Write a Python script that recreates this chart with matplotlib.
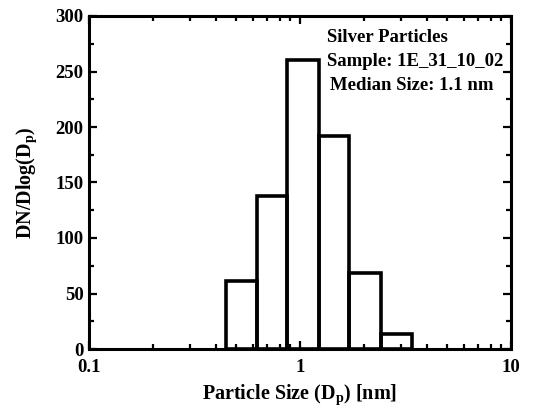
import numpy as np
import matplotlib
matplotlib.use("Agg")
import matplotlib.pyplot as plt
from matplotlib.ticker import FixedLocator, LogLocator, NullFormatter, MultipleLocator

bin_edges = [0.445, 0.624, 0.871, 1.235, 1.713, 2.41, 3.38]
counts = [61.5, 137.5, 260.5, 192.3, 68.7, 13.5]
x_ticks = [0.1, 1, 10]
x_tick_labels = ["0.1", "1", "10"]
y_ticks = [0, 50, 100, 150, 200, 250, 300]
notes = ["Silver Particles", "Sample: 1E_31_10_02", "Median Size: 1.1 nm"]

plt.rcParams['font.family'] = ['Liberation Serif']
plt.rcParams['font.weight'] = 'bold'
plt.rcParams['mathtext.fontset'] = 'custom'
plt.rcParams['mathtext.rm'] = 'Liberation Serif:bold'
plt.rcParams['mathtext.it'] = 'Liberation Serif:bold'
plt.rcParams['mathtext.bf'] = 'Liberation Serif:bold'

fig = plt.figure(figsize=(5.44, 4.07), dpi=100)
ax = fig.add_axes([89/544, 1-349/407, (511-89)/544, (349-16)/407])

edges = np.array(bin_edges)
ax.bar(edges[:-1], counts, width=np.diff(edges), align='edge', fill=False,
       edgecolor='black', linewidth=2.6, zorder=3)

ax.set_xscale('log')
ax.set_xlim(0.1, 10)
ax.set_ylim(0, 300)
ax.xaxis.set_major_locator(FixedLocator(x_ticks))
ax.set_xticklabels(x_tick_labels)
ax.xaxis.set_minor_locator(LogLocator(base=10, subs=np.arange(2, 10)))
ax.xaxis.set_minor_formatter(NullFormatter())
ax.set_yticks(y_ticks)
ax.yaxis.set_minor_locator(MultipleLocator(25))

for s in ax.spines.values():
    s.set_linewidth(2.2)
ax.tick_params(which='both', direction='in', top=True, right=True, width=1.6)
ax.tick_params(which='major', length=6, labelsize=13.5)
ax.tick_params(which='minor', length=3.5)
ax.tick_params(axis='x', pad=7)
ax.tick_params(axis='y', pad=4)
for lab in ax.get_xticklabels() + ax.get_yticklabels():
    lab.set_fontweight('bold')

ax.set_xlabel(r"Particle Size ($\mathrm{D_p}$) [nm]", fontsize=14.5, fontweight='bold', labelpad=5)
ax.set_ylabel(r"DN/Dlog($\mathrm{D_p}$)", fontsize=14.5, fontweight='bold', labelpad=12)

xs = [327, 327, 330]
ys = [38, 62, 86]
for t, px, py in zip(notes, xs, ys):
    fig.text(px/544, 1-py/407, t, fontsize=13.5, fontweight='bold', va='center', ha='left')

fig.savefig("out.png", dpi=100)
